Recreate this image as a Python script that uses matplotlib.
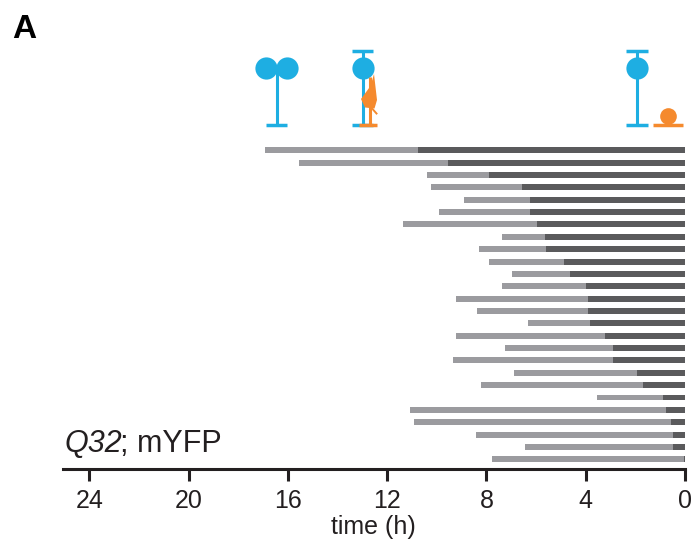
import matplotlib
matplotlib.use("Agg")
import matplotlib.pyplot as plt
from matplotlib.patches import Polygon
import numpy as np

plt.rcParams['font.family'] = ['Liberation Sans', 'DejaVu Sans']

# Bars: start of light phase (h before end), start of dark phase (h before end)
light_start = [16.92, 15.55, 10.39, 10.23, 8.90, 9.91, 11.36, 7.37, 8.30, 7.90,
               6.97, 7.37, 9.23, 8.38, 6.33, 9.23, 7.25, 9.35, 6.89, 8.22,
               3.55, 11.08, 10.92, 8.42, 6.45, 7.78]
dark_start = [10.76, 9.55, 7.90, 6.57, 6.25, 6.25, 5.96, 5.64, 5.60, 4.88,
              4.63, 3.99, 3.91, 3.91, 3.83, 3.22, 2.90, 2.90, 1.93, 1.69,
              0.89, 0.77, 0.56, 0.48, 0.48, 0.04]

# Top symbols (time in h)
blue_points = [16.88, 16.02, 12.99, 1.93]
blue_stems = [16.45, 12.99, 1.93]
blue_topcaps = [12.99, 1.93]
orange_stem = 12.69
orange_point = 0.68

xticks = [24, 20, 16, 12, 8, 4, 0]

LIGHT = '#9b9b9f'
DARK = '#5a5a5c'
BLUE = '#1eaee2'
ORANGE = '#f58a2e'
INK = '#231f20'

W, H = 696, 546
fig = plt.figure(figsize=(W / 100, H / 100), dpi=100)

def fx(px):
    return px / W

def fy(py):
    return 1 - py / H

ax_left, ax_right = 62.7, 685
ax_top, ax_bot = 140, 469
ax = fig.add_axes([fx(ax_left), fy(ax_bot), fx(ax_right - ax_left), (ax_bot - ax_top) / H])

n = len(light_start)
ys = np.arange(n)
ls = np.array(light_start)
ds = np.array(dark_start)
bh = 0.48
ax.barh(ys, ls - ds, left=ds, height=bh, color=LIGHT, linewidth=0)
ax.barh(ys, ds, left=0, height=bh, color=DARK, linewidth=0)

ax.set_xlim(25.07, 0)
ax.set_ylim(25.785, -0.833)
for s in ['top', 'right', 'left']:
    ax.spines[s].set_visible(False)
ax.spines['bottom'].set_linewidth(2.2)
ax.spines['bottom'].set_color(INK)
ax.set_yticks([])
ax.set_xticks(xticks)
ax.set_xticklabels([str(t) for t in xticks])
ax.tick_params(axis='x', direction='out', length=8.5, width=2.2, color=INK,
               labelsize=18, pad=6, labelcolor=INK)
ax.set_xlabel('time (h)', fontsize=18, labelpad=1, color=INK)

t1 = fig.text(fx(65), fy(452), 'Q32', fontsize=22, style='italic', color=INK,
              va='baseline', ha='left')
fig.canvas.draw()
bb = t1.get_window_extent(renderer=fig.canvas.get_renderer())
fig.text((bb.x1 - 2.5) / W, fy(452), '; mYFP', fontsize=22, color=INK,
         va='baseline', ha='left')

fig.text(fx(12), fy(38), 'A', fontsize=24, fontweight='bold', color='#000000',
         va='baseline', ha='left')

# Symbols axes (y in pixel units)
sx = fig.add_axes([fx(ax_left), fy(135), fx(ax_right - ax_left), 95 / H], sharex=ax)
sx.set_ylim(135, 40)
sx.axis('off')
cap = 0.43
lw = 2.2
for xs in blue_stems:
    sx.plot([xs, xs], [68.5, 125], color=BLUE, lw=lw, solid_capstyle='butt', zorder=2)
    sx.plot([xs - cap, xs + cap], [125, 125], color=BLUE, lw=2.5, solid_capstyle='butt', zorder=2)
for xs in blue_topcaps:
    sx.plot([xs, xs], [51, 68.5], color=BLUE, lw=lw, solid_capstyle='butt', zorder=2)
    sx.plot([xs - cap, xs + cap], [51, 51], color=BLUE, lw=2.5, solid_capstyle='butt', zorder=2)
sx.plot(blue_points, [68] * len(blue_points), 'o', ms=16, color=BLUE, mec='none', zorder=3)

# orange stem with half-violin shape
o = orange_stem
pxh = 1 / 24.82
sx.plot([o, o], [77, 125], color=ORANGE, lw=lw, solid_capstyle='butt', zorder=4)
sx.plot([o + 11 * pxh, o - 7 * pxh], [125, 125], color=ORANGE, lw=2.5, solid_capstyle='butt', zorder=4)
verts = [(o - 4 * pxh, 74), (o - 7 * pxh, 100), (o - 4.5 * pxh, 108.5),
         (o + 5 * pxh, 107.5), (o + 9 * pxh, 99), (o - 0.5 * pxh, 86)]
sx.add_patch(Polygon(verts, closed=True, facecolor=ORANGE, edgecolor='none', zorder=4))
sx.plot([o + 1 * pxh, o - 6.5 * pxh], [105, 113.5], color=ORANGE, lw=1.4, zorder=4)

# orange point with base line
sx.plot([orange_point - 0.6, orange_point + 0.6], [125, 125], color=ORANGE, lw=2.5,
        solid_capstyle='butt', zorder=4)
sx.plot([orange_point], [115.5], 'o', ms=12, color=ORANGE, mec='none', zorder=4)

fig.savefig('out.png', dpi=100)
